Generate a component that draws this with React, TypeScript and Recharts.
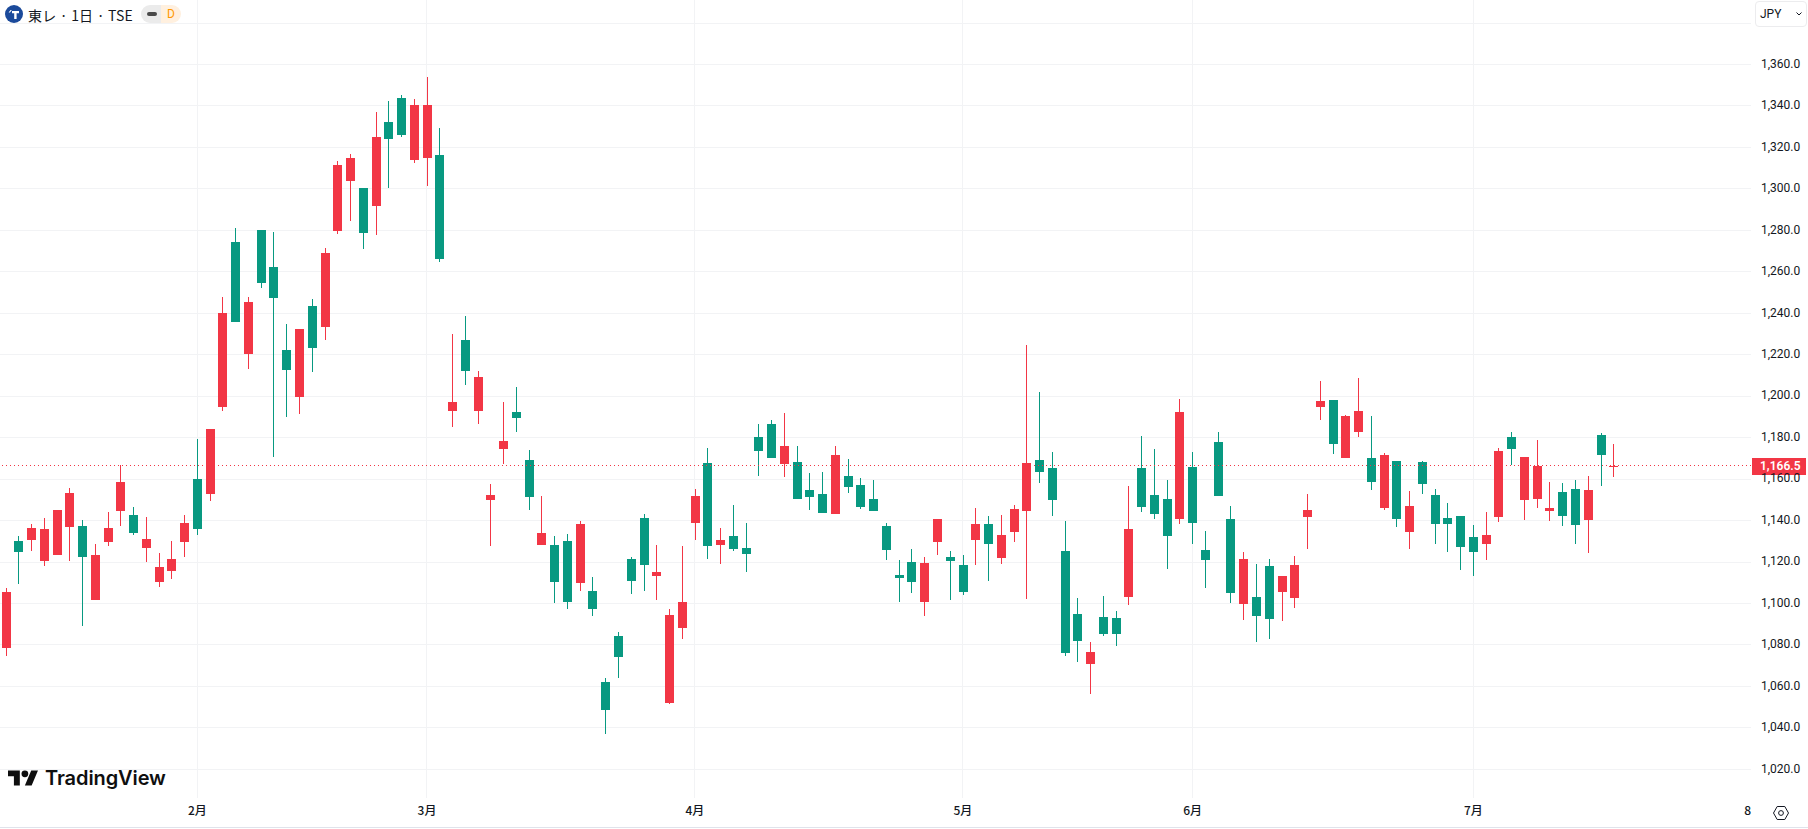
import React from "react";
import {
  ComposedChart,
  Bar,
  XAxis,
  YAxis,
  CartesianGrid,
  ReferenceLine,
} from "recharts";

const opens = [
  1078.5, 1130.3, 1130.8, 1120.7, 1123.5, 1137, 1137.5, 1101.7, 1129.8, 1144.7,
  1142.8, 1126.9, 1110.5, 1115.8, 1129.8, 1160.2, 1152.9, 1194.8, 1274.2, 1220.3,
  1280, 1262.1, 1222.3, 1199.7, 1243.6, 1233.4, 1279.5, 1303.6, 1300.3, 1291.6,
  1332.1, 1343.7, 1313.8, 1314.8, 1316.2, 1192.9, 1227.2, 1192.9, 1150.1, 1174.6,
  1192.4, 1169.3, 1128.3, 1128.3, 1130.3, 1110, 1105.9, 1062.3, 1084.5, 1121.6,
  1141.3, 1113.4, 1051.8, 1088.3, 1138.9, 1167.8, 1128.3, 1132.7, 1126.9, 1180.4,
  1186.7, 1167.4, 1168.3, 1154.8, 1152.9, 1143.3, 1161.6, 1157.3, 1150.6, 1137.4,
  1113.8, 1120, 1100.8, 1129.7, 1122.5, 1118.6, 1130.6, 1138.3, 1122, 1134.5,
  1144.6, 1169.1, 1165.3, 1125.3, 1095, 1071, 1093.6, 1093.1, 1103.2, 1165.3,
  1152.3, 1150.4, 1140.7, 1165.8, 1125.8, 1177.8, 1140.7, 1099.8, 1103.2, 1118.1,
  1105.6, 1102.7, 1141.7, 1194.8, 1198.2, 1170.2, 1182.8, 1170.2, 1146, 1168.8,
  1134.5, 1168.3, 1152.3, 1141.2, 1142.2, 1132, 1128.7, 1141.7, 1180.4, 1149.9,
  1150.4, 1144.6, 1153.8, 1155.2, 1140.3, 1181.3, 1165.9,
];
const closes = [
  1105.5, 1124.9, 1136.6, 1136.1, 1145.2, 1153.4, 1122.6, 1123.5, 1136.6, 1158.7,
  1134.2, 1131.3, 1117.8, 1121.6, 1138.9, 1136.1, 1184.2, 1240.2, 1235.8, 1245.5,
  1254.8, 1247.6, 1212.7, 1232.5, 1223.3, 1268.9, 1311.4, 1314.8, 1278.5, 1324.9,
  1323.9, 1325.9, 1340.4, 1340.4, 1266.4, 1197.3, 1212.2, 1209.3, 1152.4, 1178.4,
  1189.6, 1151.4, 1134.2, 1110.5, 1100.9, 1138.4, 1097.5, 1048.8, 1074.4, 1111,
  1118.7, 1115.3, 1094.7, 1100.9, 1151.9, 1127.9, 1130.8, 1126.4, 1124, 1173.7,
  1170.3, 1176.1, 1150.6, 1151.4, 1143.8, 1171.7, 1156.3, 1146.7, 1144.7, 1125.8,
  1112.3, 1110.4, 1119.6, 1140.7, 1120.5, 1105.6, 1138.3, 1128.7, 1133, 1145.6,
  1167.7, 1163.4, 1149.9, 1076.2, 1082, 1076.7, 1085.4, 1085.4, 1135.9, 1146.5,
  1143.2, 1132.6, 1192.2, 1138.8, 1121, 1151.8, 1105.1, 1121.5, 1094, 1092.6,
  1113.3, 1118.6, 1145.1, 1197.7, 1177, 1190.5, 1192.9, 1158.6, 1171.7, 1140.7,
  1147, 1157.6, 1138.3, 1138.3, 1127.2, 1124.8, 1133, 1173.6, 1174.6, 1170.7,
  1166.3, 1146, 1142.2, 1137.8, 1154.8, 1171.7, 1166.5,
];
const highs = [
  1107.5, 1132.7, 1138.4, 1141.3, 1145.2, 1155.8, 1140.4, 1128.8, 1144.3, 1166.7,
  1146.7, 1141.8, 1124.5, 1130.3, 1142.8, 1179.4, 1184.2, 1247.8, 1281, 1248,
  1280, 1279, 1234.8, 1232.5, 1247.1, 1271.3, 1313.3, 1316.7, 1300.3, 1337,
  1342.3, 1345.2, 1343.3, 1353.9, 1329.2, 1230.1, 1238.7, 1212.2, 1157.8, 1197.3,
  1204.5, 1174.2, 1151.9, 1132.7, 1133.7, 1139.9, 1112.6, 1064.3, 1086.4, 1122.6,
  1143.3, 1128.3, 1097.5, 1127.9, 1155.3, 1175.1, 1136.6, 1147.7, 1138.9, 1186.7,
  1188.6, 1192, 1176.1, 1163.1, 1163.6, 1176.1, 1169.9, 1160.6, 1159.6, 1138.8,
  1121, 1126.3, 1122.5, 1140.7, 1125.3, 1123.4, 1146, 1142.2, 1142.7, 1147.5,
  1224.5, 1201.9, 1173, 1139.8, 1102.7, 1081.5, 1103.7, 1096.5, 1156.6, 1180.7,
  1174.4, 1159.5, 1198.5, 1173, 1135, 1182.6, 1147, 1124.9, 1119.1, 1121.5,
  1113.3, 1122.9, 1152.8, 1207.4, 1198.2, 1191, 1208.9, 1190.5, 1172.6, 1168.8,
  1154.3, 1168.8, 1155.2, 1148.5, 1142.2, 1137.8, 1144.1, 1175, 1182.8, 1170.7,
  1178.9, 1158.6, 1158.1, 1159.6, 1161.5, 1182.3, 1177,
];
const lows = [
  1074.7, 1109.6, 1125.4, 1118.2, 1123.5, 1120.7, 1089, 1101.7, 1127.9, 1137.5,
  1133.2, 1120.2, 1108.2, 1111.9, 1122.6, 1133.2, 1149.6, 1192.9, 1235.8, 1213.1,
  1252.4, 1170.8, 1190.1, 1191.5, 1211.7, 1227, 1278, 1284.3, 1270.8, 1277.6,
  1300.3, 1324.9, 1312.3, 1301.2, 1264.5, 1185.2, 1205.5, 1186.7, 1127.9, 1167.4,
  1182.8, 1145.2, 1128.3, 1100.4, 1097.5, 1106.2, 1093.9, 1037.3, 1064.3, 1104.8,
  1106.2, 1101.8, 1051.3, 1083, 1130.7, 1121.6, 1119.2, 1125.4, 1115.3, 1161.6,
  1170.3, 1161.2, 1150.6, 1145.2, 1143.8, 1143.3, 1153.4, 1145.7, 1144.7, 1121,
  1100.8, 1105.1, 1094, 1123.4, 1101.8, 1104.2, 1118.6, 1110.9, 1119.1, 1129.7,
  1102.2, 1158.1, 1142.2, 1074.8, 1071.9, 1056.5, 1084.4, 1079.6, 1099.4, 1144.1,
  1140.7, 1116.7, 1138.3, 1128.7, 1107.5, 1151.8, 1100.3, 1092.1, 1081.5, 1083,
  1091.6, 1097.9, 1126.3, 1188.6, 1172.1, 1170.2, 1180.4, 1154.8, 1145.1, 1136.9,
  1126.2, 1152.8, 1128.7, 1124.8, 1116.1, 1113.2, 1120.9, 1139.3, 1166.8, 1140.3,
  1146, 1139.8, 1137.4, 1128.7, 1124.3, 1156.7, 1161,
];

const monthBars = [15, 33, 54, 75, 93, 115];
const monthTicks = [15, 33, 54, 75, 93, 115, 136.5];
const monthLabels = ["2月", "3月", "4月", "5月", "6月", "7月", "8"];
const priceTicks = [
  1360, 1340, 1320, 1300, 1280, 1260, 1240, 1220, 1200, 1180, 1160, 1140, 1120,
  1100, 1080, 1060, 1040, 1020,
];
const priceGrid = [1380, ...priceTicks];
const lastPrice = 1166.5;

const UP = "#f23645";
const DOWN = "#089981";
const GRID = "#f2f3f5";
const TEXT = "#131722";
const AXIS_FONT = "Roboto, sans-serif";
const CJK_FONT = "'Noto Sans CJK JP', sans-serif";

const candles = opens.map((open, i) => ({
  bar: i,
  open,
  close: closes[i],
  high: highs[i],
  low: lows[i],
}));

function Candle(props: any) {
  const { x, y, width, height, payload } = props;
  const { open, close, high, low } = payload;
  const color = close >= open ? UP : DOWN;
  const perUnit = height / (high - low);
  const bodyTop = Math.round(y + (high - Math.max(open, close)) * perUnit);
  const bodyBottom = Math.round(y + (high - Math.min(open, close)) * perUnit);
  const mid = Math.floor(x + width / 2);
  return (
    <g shapeRendering="crispEdges">
      <rect x={mid} y={y} width={1} height={height} fill={color} />
      <rect
        x={mid - 4}
        y={bodyTop}
        width={9}
        height={Math.max(bodyBottom - bodyTop, 1)}
        fill={color}
      />
    </g>
  );
}

function PriceTag(props: any) {
  const { viewBox } = props;
  const right = viewBox.x + viewBox.width;
  const cy = viewBox.y;
  return (
    <g>
      <rect x={right + 1} y={Math.round(cy) - 8} width={54} height={17} fill={UP} />
      <text
        x={right + 9}
        y={cy + 4.5}
        fill="#ffffff"
        fontFamily={AXIS_FONT}
        fontSize={12}
        fontWeight={600}
      >
        {lastPrice.toLocaleString("en-US", { minimumFractionDigits: 1 })}
      </text>
    </g>
  );
}

function Header() {
  return (
    <>
      <svg
        width={18}
        height={18}
        viewBox="0 0 18 18"
        style={{ position: "absolute", left: 5, top: 5 }}
      >
        <circle cx={9} cy={9} r={9} fill="#1b4a9b" />
        <path d="M7 6h7v2.2h-2.4V14H9.2V8.2H7zM3.6 7.4 5.6 5h1.2L5 7.6z" fill="#ffffff" />
      </svg>
      <div
        style={{
          position: "absolute",
          left: 28,
          top: 5,
          height: 20,
          lineHeight: "20px",
          fontFamily: CJK_FONT,
          fontSize: 14,
          letterSpacing: 0.2,
          color: TEXT,
          whiteSpace: "pre",
        }}
      >
        東レ · 1日 · TSE
      </div>
      <div
        style={{
          position: "absolute",
          left: 141,
          top: 5,
          width: 20,
          height: 18,
          background: "#ebebeb",
          borderRadius: "9px 0 0 9px",
        }}
      >
        <div
          style={{
            position: "absolute",
            left: 6,
            top: 7,
            width: 10,
            height: 4,
            borderRadius: 2,
            background: "#4a4a4a",
          }}
        />
      </div>
      <div
        style={{
          position: "absolute",
          left: 161,
          top: 5,
          width: 20,
          height: 18,
          lineHeight: "18px",
          background: "#fff0df",
          borderRadius: "0 9px 9px 0",
          color: "#ff9800",
          fontFamily: AXIS_FONT,
          fontSize: 12,
          textIndent: 6,
        }}
      >
        D
      </div>
      <div
        style={{
          position: "absolute",
          left: 1755,
          top: 1,
          width: 50,
          height: 24,
          lineHeight: "24px",
          background: "#ffffff",
          border: "1px solid #ececee",
          borderRadius: 4,
          fontFamily: AXIS_FONT,
          fontSize: 12,
          color: TEXT,
          textIndent: 4,
        }}
      >
        JPY
      </div>
      <svg
        width={8}
        height={6}
        viewBox="0 0 8 6"
        style={{ position: "absolute", left: 1795, top: 11 }}
      >
        <path d="M1.5 1.5 4 4l2.5-2.5" fill="none" stroke={TEXT} strokeWidth={1} />
      </svg>
    </>
  );
}

function Footer() {
  return (
    <>
      <svg
        width={30.4}
        height={23.7}
        viewBox="0 0 36 28"
        style={{ position: "absolute", left: 8, top: 766.6 }}
      >
        <path d="M14 22H7V11H0V4h14v18zM28 22h-8l7.5-18h8L28 22z" fill="#0f0f0f" />
        <circle cx={20} cy={8} r={4} fill="#0f0f0f" />
      </svg>
      <div
        style={{
          position: "absolute",
          left: 45,
          top: 764,
          height: 28,
          lineHeight: "28px",
          fontFamily: "Inter, sans-serif",
          fontSize: 20,
          fontWeight: 600,
          letterSpacing: -0.1,
          color: "#0f0f0f",
        }}
      >
        TradingView
      </div>
      <svg
        width={18}
        height={18}
        viewBox="0 0 18 18"
        style={{ position: "absolute", left: 1772, top: 804 }}
      >
        <path
          d="M1.5 9 5.2 2.5h7.6L16.5 9l-3.7 6.5H5.2z"
          fill="none"
          stroke={TEXT}
          strokeWidth={1}
        />
        <circle cx={9} cy={9} r={2.4} fill="none" stroke={TEXT} strokeWidth={1} />
      </svg>
      <div
        style={{
          position: "absolute",
          left: 0,
          top: 827,
          width: 1808,
          height: 1,
          background: "#e0e3eb",
        }}
      />
    </>
  );
}

export default function App() {
  return (
    <div
      style={{
        position: "absolute",
        left: 0,
        top: 0,
        width: 1808,
        height: 829,
        background: "#ffffff",
        overflow: "hidden",
      }}
    >
      <ComposedChart
        width={1808}
        height={829}
        data={candles}
        margin={{ top: 0, right: 0, bottom: 0, left: 0 }}
      >
        <CartesianGrid
          stroke={GRID}
          strokeWidth={1}
          horizontalValues={priceGrid}
          verticalValues={monthBars}
          shapeRendering="crispEdges"
        />
        <XAxis
          dataKey="bar"
          type="number"
          domain={[-0.4624, 136.763]}
          ticks={monthTicks}
          interval={0}
          height={31}
          allowDataOverflow
          axisLine={false}
          tickLine={false}
          tickSize={0}
          tickMargin={8}
          tick={{ fill: TEXT, fontSize: 12, fontWeight: 500, fontFamily: CJK_FONT }}
          tickFormatter={(v: number) => monthLabels[monthTicks.indexOf(v)]}
        />
        <YAxis
          orientation="right"
          width={57}
          domain={[1006.2, 1391.1]}
          ticks={priceTicks}
          interval={0}
          allowDataOverflow
          axisLine={false}
          tickLine={false}
          tickSize={0}
          tickMargin={10}
          tick={{ fill: TEXT, fontSize: 12, fontFamily: AXIS_FONT, dy: -1 }}
          tickFormatter={(v: number) =>
            v.toLocaleString("en-US", { minimumFractionDigits: 1 })
          }
        />
        <ReferenceLine
          y={lastPrice}
          stroke={UP}
          strokeWidth={1}
          strokeDasharray="1 3"
          shapeRendering="crispEdges"
          label={<PriceTag />}
        />
        <Bar
          dataKey={(d: any) => [d.low, d.high]}
          barSize={9}
          shape={<Candle />}
          isAnimationActive={false}
        />
      </ComposedChart>
      <Header />
      <Footer />
    </div>
  );
}
